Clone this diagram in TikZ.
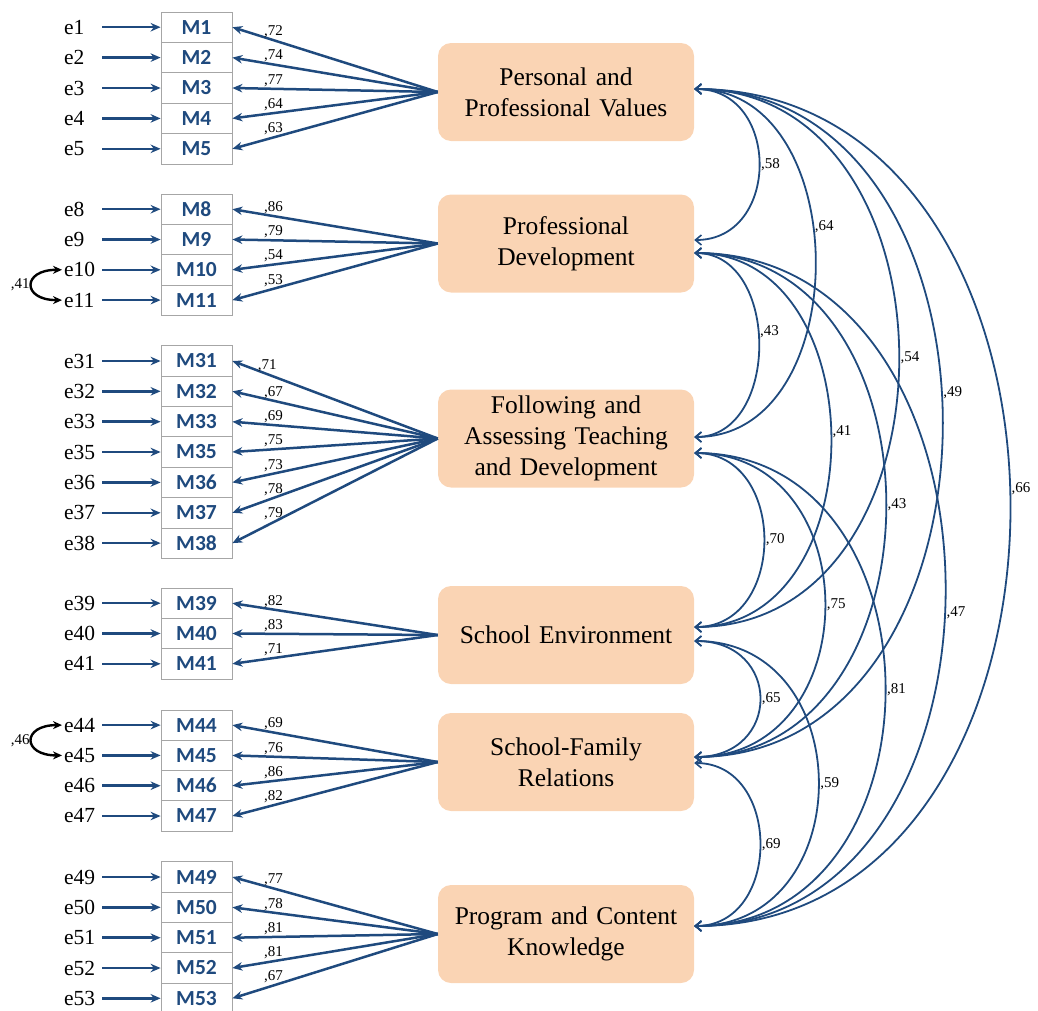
\documentclass[tikz,border=0pt]{standalone}
\usepackage{fontspec}
\setmainfont{Liberation Serif}
\newfontfamily\mfont{Carlito}
\usepackage{xcolor}
\usetikzlibrary{arrows.meta,positioning}

\definecolor{amosblue}{HTML}{1F4A7E}
\definecolor{peach}{HTML}{FAD4B4}
\definecolor{boxgray}{HTML}{A6A6A6}

\begin{document}
\begin{tikzpicture}[->,>={Stealth[length=10pt,width=8.5pt]},x=1pt,y=-1pt,
  item/.style={draw=boxgray,fill=white,line width=0.8pt,minimum width=71pt,minimum height=30.4pt,inner sep=0pt,text=amosblue,font=\mfont\bfseries\fontsize{21.5}{24}\selectfont},
  err/.style={anchor=west,text width=36pt,inner sep=2pt,align=left,font=\fontsize{21.5}{24}\selectfont},
  factor/.style={fill=peach,rounded corners=13pt,minimum width=256pt,minimum height=98pt,text width=240pt,align=center,inner sep=0pt,font=\fontsize{25.5}{31}\selectfont},
  coef/.style={text=black,inner sep=1pt,font=\fontsize{15}{17}\selectfont},
  load/.style={color=amosblue,line width=2.5pt},
  cov/.style={<->,>={Straight Barb[length=6pt,width=10pt,line width=1.6pt]},color=amosblue,line width=1.8pt},
  ecov/.style={<->,>={Stealth[length=9pt,width=8pt]},color=black,line width=2.4pt}]

    \useasboundingbox (0,0) rectangle (1038,1010);

    % The factors
	\node [factor] at (566,92) (PV) {Personal and\\Professional Values};
	\node [factor] at (566,243.5) (PD) {Professional\\Development};
	\node [factor] at (566,438.5) (FA) {Following and\\Assessing Teaching\\and Development};
	\node [factor] at (566,635) (SE) {School Environment};
	\node [factor] at (566,762) (SF) {School-Family\\Relations};
	\node [factor] at (566,934) (PC) {Program and Content\\Knowledge};

    % The items
	\node [item] at (196.5,27.2) (M1) {M1};
	\node [item] at (196.5,57.6) (M2) {M2};
	\node [item] at (196.5,88) (M3) {M3};
	\node [item] at (196.5,118.4) (M4) {M4};
	\node [item] at (196.5,148.8) (M5) {M5};

	\node [item] at (196.5,209.2) (M8) {M8};
	\node [item] at (196.5,239.5) (M9) {M9};
	\node [item] at (196.5,269.8) (M10) {M10};
	\node [item] at (196.5,300.1) (M11) {M11};

	\node [item] at (196.5,361) (M31) {M31};
	\node [item] at (196.5,391.3) (M32) {M32};
	\node [item] at (196.5,421.7) (M33) {M33};
	\node [item] at (196.5,452) (M35) {M35};
	\node [item] at (196.5,482.4) (M36) {M36};
	\node [item] at (196.5,512.8) (M37) {M37};
	\node [item] at (196.5,543.1) (M38) {M38};

	\node [item] at (196.5,603.2) (M39) {M39};
	\node [item] at (196.5,633.5) (M40) {M40};
	\node [item] at (196.5,663.8) (M41) {M41};

	\node [item] at (196.5,725.1) (M44) {M44};
	\node [item] at (196.5,755.4) (M45) {M45};
	\node [item] at (196.5,785.7) (M46) {M46};
	\node [item] at (196.5,816) (M47) {M47};

	\node [item] at (196.5,877) (M49) {M49};
	\node [item] at (196.5,907.3) (M50) {M50};
	\node [item] at (196.5,937.7) (M51) {M51};
	\node [item] at (196.5,968) (M52) {M52};
	\node [item] at (196.5,998.3) (M53) {M53};

    % The errors
	\node [err] at (62,27.2) (e1) {e1};
	\node [err] at (62,57.6) (e2) {e2};
	\node [err] at (62,88) (e3) {e3};
	\node [err] at (62,118.4) (e4) {e4};
	\node [err] at (62,148.8) (e5) {e5};

	\node [err] at (62,209.2) (e8) {e8};
	\node [err] at (62,239.5) (e9) {e9};
	\node [err] at (62,269.8) (e10) {e10};
	\node [err] at (62,300.1) (e11) {e11};

	\node [err] at (62,361) (e31) {e31};
	\node [err] at (62,391.3) (e32) {e32};
	\node [err] at (62,421.7) (e33) {e33};
	\node [err] at (62,452) (e35) {e35};
	\node [err] at (62,482.4) (e36) {e36};
	\node [err] at (62,512.8) (e37) {e37};
	\node [err] at (62,543.1) (e38) {e38};

	\node [err] at (62,603.2) (e39) {e39};
	\node [err] at (62,633.5) (e40) {e40};
	\node [err] at (62,663.8) (e41) {e41};

	\node [err] at (62,725.1) (e44) {e44};
	\node [err] at (62,755.4) (e45) {e45};
	\node [err] at (62,785.7) (e46) {e46};
	\node [err] at (62,816) (e47) {e47};

	\node [err] at (62,877) (e49) {e49};
	\node [err] at (62,907.3) (e50) {e50};
	\node [err] at (62,937.7) (e51) {e51};
	\node [err] at (62,968) (e52) {e52};
	\node [err] at (62,998.3) (e53) {e53};

    % Error edges
	\path[load]
	(e1) edge (M1)
	(e2) edge (M2)
	(e3) edge (M3)
	(e4) edge (M4)
	(e5) edge (M5)
	(e8) edge (M8)
	(e9) edge (M9)
	(e10) edge (M10)
	(e11) edge (M11)
	(e31) edge (M31)
	(e32) edge (M32)
	(e33) edge (M33)
	(e35) edge (M35)
	(e36) edge (M36)
	(e37) edge (M37)
	(e38) edge (M38)
	(e39) edge (M39)
	(e40) edge (M40)
	(e41) edge (M41)
	(e44) edge (M44)
	(e45) edge (M45)
	(e46) edge (M46)
	(e47) edge (M47)
	(e49) edge (M49)
	(e50) edge (M50)
	(e51) edge (M51)
	(e52) edge (M52)
	(e53) edge (M53)
	;

	\path[ecov]
	(e10.west) edge[out=180,in=180,looseness=3.4] node[coef,left] {,41} (e11.west)
	(e44.west) edge[out=180,in=180,looseness=3.4] node[coef,left] {,46} (e45.west)
	;

    % Loadings
	\path[load]
	(PV.west) edge node[coef,pos=0.8,above] {,72} (M1.east)
	(PV.west) edge node[coef,pos=0.8,above] {,74} (M2.east)
	(PV.west) edge node[coef,pos=0.8,above] {,77} (M3.east)
	(PV.west) edge node[coef,pos=0.8,above] {,64} (M4.east)
	(PV.west) edge node[coef,pos=0.8,above] {,63} (M5.east)
	(PD.west) edge node[coef,pos=0.8,above] {,86} (M8.east)
	(PD.west) edge node[coef,pos=0.8,above] {,79} (M9.east)
	(PD.west) edge node[coef,pos=0.8,above] {,54} (M10.east)
	(PD.west) edge node[coef,pos=0.8,above] {,53} (M11.east)
	(FA.west) edge node[coef,pos=0.83,above] {,71} (M31.east)
	(FA.west) edge node[coef,pos=0.8,above] {,67} (M32.east)
	(FA.west) edge node[coef,pos=0.8,above] {,69} (M33.east)
	(FA.west) edge node[coef,pos=0.8,above] {,75} (M35.east)
	(FA.west) edge node[coef,pos=0.8,above] {,73} (M36.east)
	(FA.west) edge node[coef,pos=0.8,above] {,78} (M37.east)
	(FA.west) edge node[coef,pos=0.8,above] {,79} (M38.east)
	(SE.west) edge node[coef,pos=0.8,above] {,82} (M39.east)
	(SE.west) edge node[coef,pos=0.8,above] {,83} (M40.east)
	(SE.west) edge node[coef,pos=0.8,above] {,71} (M41.east)
	(SF.west) edge node[coef,pos=0.8,above] {,69} (M44.east)
	(SF.west) edge node[coef,pos=0.8,above] {,76} (M45.east)
	(SF.west) edge node[coef,pos=0.8,above] {,86} (M46.east)
	(SF.west) edge node[coef,pos=0.8,above] {,82} (M47.east)
	(PC.west) edge node[coef,pos=0.8,above] {,77} (M49.east)
	(PC.west) edge node[coef,pos=0.8,above] {,78} (M50.east)
	(PC.west) edge node[coef,pos=0.8,above] {,81} (M51.east)
	(PC.west) edge node[coef,pos=0.8,above] {,81} (M52.east)
	(PC.west) edge node[coef,pos=0.8,above] {,67} (M53.east)
	;

    % Covariances
	\coordinate (PVr) at ([yshift=3pt]PV.east);
	\coordinate (PDin) at ([yshift=3.5pt]PD.east);
	\coordinate (PDout) at ([yshift=-9.5pt]PD.east);
	\coordinate (FAin) at ([yshift=1.5pt]FA.east);
	\coordinate (FAout) at ([yshift=-14.5pt]FA.east);
	\coordinate (SEin) at ([yshift=8pt]SE.east);
	\coordinate (SEout) at ([yshift=-6pt]SE.east);
	\coordinate (SFin) at ([yshift=5pt]SF.east);
	\coordinate (SFout) at ([yshift=-1pt]SF.east);
	\coordinate (PCl) at ([yshift=8pt]PC.east);

	\path[cov]
	(PVr) edge[out=0,in=0,looseness=1.47] node[coef,right] {,58} (PDin)
	(PVr) edge[out=0,in=0,looseness=1.19] node[coef,right,pos=0.43] {,64} (FAin)
	(PVr) edge[out=0,in=0,looseness=1.30] node[coef,right] {,54} (SEin)
	(PVr) edge[out=0,in=0,looseness=1.27] node[coef,right,pos=0.47] {,49} (SFin)
	(PVr) edge[out=0,in=0,looseness=1.29] node[coef,right,pos=0.485] {,66} (PCl)
	(PDout) edge[out=0,in=0,looseness=1.2] node[coef,right,pos=0.45] {,43} (FAin)
	(PDout) edge[out=0,in=0,looseness=1.25] node[coef,right,pos=0.485] {,41} (SEin)
	(PDout) edge[out=0,in=0,looseness=1.30] node[coef,right] {,43} (SFin)
	(PDout) edge[out=0,in=0,looseness=1.275] node[coef,right,pos=0.523] {,47} (PCl)
	(FAout) edge[out=0,in=0,looseness=1.37] node[coef,right] {,70} (SEin)
	(FAout) edge[out=0,in=0,looseness=1.47] node[coef,right] {,75} (SFin)
	(FAout) edge[out=0,in=0,looseness=1.38] node[coef,right] {,81} (PCl)
	(SEout) edge[out=0,in=0,looseness=1.94] node[coef,right] {,65} (SFin)
	(SEout) edge[out=0,in=0,looseness=1.49] node[coef,right] {,59} (PCl)
	(SFout) edge[out=0,in=0,looseness=1.38] node[coef,right] {,69} (PCl)
	;

\end{tikzpicture}
\end{document}
